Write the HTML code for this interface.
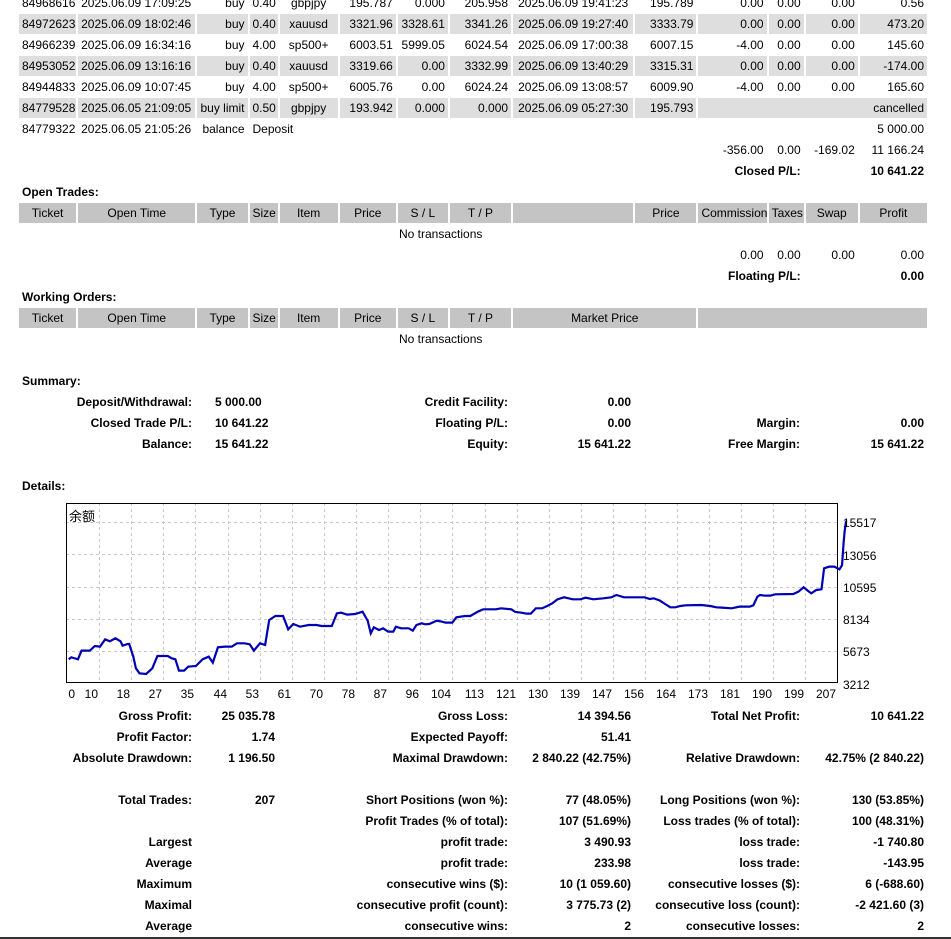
<!DOCTYPE html>
<html><head><meta charset="utf-8"><style>
body{margin:0;width:951px;height:939px;background:#fff;position:relative;overflow:hidden;font-family:"Liberation Sans","Noto Sans CJK SC",sans-serif;font-size:12px;color:#000}
table{position:absolute;left:17px;top:-8px;border-collapse:separate;border-spacing:2px 1px;table-layout:fixed;width:912px}
td{padding:0 3px;height:20px;line-height:20px;white-space:nowrap;overflow:visible;font-size:12px}
tr.g td{background:#dedede}
tr.h td{background:#c4c4c4;text-align:center}
.r{text-align:right}.c{text-align:center}.b{font-weight:bold}
.a{position:absolute;height:20px;line-height:20px;white-space:nowrap;font-weight:bold}
</style></head><body>
<table>
<colgroup><col style="width:57px"><col style="width:117px"><col style="width:50px"><col style="width:28px"><col style="width:58px"><col style="width:56px"><col style="width:50px"><col style="width:61px"><col style="width:120px"><col style="width:61px"><col style="width:68px"><col style="width:35px"><col style="width:52px"><col style="width:67px"></colgroup>
<tr><td>84968616</td><td>2025.06.09 17:09:25</td><td class="r">buy</td><td>0.40</td><td class="c">gbpjpy</td><td class="r">195.787</td><td class="r">0.000</td><td class="r">205.958</td><td class="c">2025.06.09 19:41:23</td><td class="r">195.789</td><td class="r">0.00</td><td class="r">0.00</td><td class="r">0.00</td><td class="r">0.56</td></tr>
<tr class="g"><td>84972623</td><td>2025.06.09 18:02:46</td><td class="r">buy</td><td>0.40</td><td class="c">xauusd</td><td class="r">3321.96</td><td class="r">3328.61</td><td class="r">3341.26</td><td class="c">2025.06.09 19:27:40</td><td class="r">3333.79</td><td class="r">0.00</td><td class="r">0.00</td><td class="r">0.00</td><td class="r">473.20</td></tr>
<tr><td>84966239</td><td>2025.06.09 16:34:16</td><td class="r">buy</td><td>4.00</td><td class="c">sp500+</td><td class="r">6003.51</td><td class="r">5999.05</td><td class="r">6024.54</td><td class="c">2025.06.09 17:00:38</td><td class="r">6007.15</td><td class="r">-4.00</td><td class="r">0.00</td><td class="r">0.00</td><td class="r">145.60</td></tr>
<tr class="g"><td>84953052</td><td>2025.06.09 13:16:16</td><td class="r">buy</td><td>0.40</td><td class="c">xauusd</td><td class="r">3319.66</td><td class="r">0.00</td><td class="r">3332.99</td><td class="c">2025.06.09 13:40:29</td><td class="r">3315.31</td><td class="r">0.00</td><td class="r">0.00</td><td class="r">0.00</td><td class="r">-174.00</td></tr>
<tr><td>84944833</td><td>2025.06.09 10:07:45</td><td class="r">buy</td><td>4.00</td><td class="c">sp500+</td><td class="r">6005.76</td><td class="r">0.00</td><td class="r">6024.24</td><td class="c">2025.06.09 13:08:57</td><td class="r">6009.90</td><td class="r">-4.00</td><td class="r">0.00</td><td class="r">0.00</td><td class="r">165.60</td></tr>
<tr class="g"><td>84779528</td><td>2025.06.05 21:09:05</td><td class="r">buy limit</td><td>0.50</td><td class="c">gbpjpy</td><td class="r">193.942</td><td class="r">0.000</td><td class="r">0.000</td><td class="c">2025.06.09 05:27:30</td><td class="r">195.793</td><td colspan="4" class="r">cancelled</td></tr>
<tr><td>84779322</td><td>2025.06.05 21:05:26</td><td class="r">balance</td><td colspan="2">Deposit</td><td></td><td></td><td></td><td></td><td></td><td></td><td></td><td></td><td class="r">5 000.00</td></tr>
<tr><td colspan="10"></td><td class="r">-356.00</td><td class="r">0.00</td><td class="r">-169.02</td><td class="r">11 166.24</td></tr>
<tr><td colspan="10"></td><td colspan="2" class="r b">Closed P/L:</td><td></td><td class="r b">10 641.22</td></tr>
<tr><td colspan="14" class="b">Open Trades:</td></tr>
<tr class="h"><td>Ticket</td><td>Open Time</td><td>Type</td><td>Size</td><td>Item</td><td>Price</td><td>S / L</td><td>T / P</td><td></td><td class="r">Price</td><td>Commission</td><td>Taxes</td><td>Swap</td><td>Profit</td></tr>
<tr><td colspan="14" style="padding-left:380px">No transactions</td></tr>
<tr><td colspan="10"></td><td class="r">0.00</td><td class="r">0.00</td><td class="r">0.00</td><td class="r">0.00</td></tr>
<tr><td colspan="10"></td><td colspan="2" class="r b">Floating P/L:</td><td></td><td class="r b">0.00</td></tr>
<tr><td colspan="14" class="b">Working Orders:</td></tr>
<tr class="h"><td>Ticket</td><td>Open Time</td><td>Type</td><td>Size</td><td>Item</td><td>Price</td><td>S / L</td><td>T / P</td><td colspan="2">Market Price</td><td colspan="4"></td></tr>
<tr><td colspan="14" style="padding-left:380px">No transactions</td></tr>
</table>

<div class="a" style="left:22px;top:371px">Summary:</div>
<div class="a" style="right:759px;top:392px">Deposit/Withdrawal:</div><div class="a" style="left:215px;top:392px">5 000.00</div>
<div class="a" style="right:443px;top:392px">Credit Facility:</div><div class="a" style="right:320px;top:392px">0.00</div>
<div class="a" style="right:759px;top:413px">Closed Trade P/L:</div><div class="a" style="left:215px;top:413px">10 641.22</div>
<div class="a" style="right:443px;top:413px">Floating P/L:</div><div class="a" style="right:320px;top:413px">0.00</div>
<div class="a" style="right:151px;top:413px">Margin:</div><div class="a" style="right:27px;top:413px">0.00</div>
<div class="a" style="right:759px;top:434px">Balance:</div><div class="a" style="left:215px;top:434px">15 641.22</div>
<div class="a" style="right:443px;top:434px">Equity:</div><div class="a" style="right:320px;top:434px">15 641.22</div>
<div class="a" style="right:151px;top:434px">Free Margin:</div><div class="a" style="right:27px;top:434px">15 641.22</div>
<div class="a" style="left:22px;top:476px">Details:</div>

<svg style="position:absolute;left:0;top:0" width="951" height="939">
<g stroke="#c8c8c8" stroke-width="1" stroke-dasharray="3,3">
<line x1="66" x2="838" y1="522.5" y2="522.5"/><line x1="66" x2="838" y1="554.5" y2="554.5"/><line x1="66" x2="838" y1="587.5" y2="587.5"/><line x1="66" x2="838" y1="619.5" y2="619.5"/><line x1="66" x2="838" y1="651.5" y2="651.5"/>
<line x1="99.5" x2="99.5" y1="503" y2="683"/><line x1="131.5" x2="131.5" y1="503" y2="683"/><line x1="163.5" x2="163.5" y1="503" y2="683"/><line x1="195.5" x2="195.5" y1="503" y2="683"/><line x1="228.5" x2="228.5" y1="503" y2="683"/><line x1="260.5" x2="260.5" y1="503" y2="683"/><line x1="292.5" x2="292.5" y1="503" y2="683"/><line x1="324.5" x2="324.5" y1="503" y2="683"/><line x1="356.5" x2="356.5" y1="503" y2="683"/><line x1="388.5" x2="388.5" y1="503" y2="683"/><line x1="420.5" x2="420.5" y1="503" y2="683"/><line x1="452.5" x2="452.5" y1="503" y2="683"/><line x1="485.5" x2="485.5" y1="503" y2="683"/><line x1="517.5" x2="517.5" y1="503" y2="683"/><line x1="549.5" x2="549.5" y1="503" y2="683"/><line x1="581.5" x2="581.5" y1="503" y2="683"/><line x1="613.5" x2="613.5" y1="503" y2="683"/><line x1="645.5" x2="645.5" y1="503" y2="683"/><line x1="677.5" x2="677.5" y1="503" y2="683"/><line x1="709.5" x2="709.5" y1="503" y2="683"/><line x1="741.5" x2="741.5" y1="503" y2="683"/><line x1="773.5" x2="773.5" y1="503" y2="683"/><line x1="805.5" x2="805.5" y1="503" y2="683"/>
</g>
<rect x="66.5" y="503.5" width="771" height="179" fill="none" stroke="#000"/>
<path transform="matrix(0.5128,0,0,0.3333,60,500)" vector-effect="non-scaling-stroke" fill="none" stroke="#0000b4" stroke-width="2.2" d="M17,478 L22,472 L35,478 L42,452 L58,452 L68,438 L78,440 L88,418 L97,424 L108,415 L118,424 L122,437 L132,432 L135,432 L143,470 L148,505 L155,520 L168,522 L180,505 L190,468 L210,468 L218,475 L225,478 L232,512 L242,512 L250,500 L265,498 L278,478 L290,470 L298,488 L308,442 L322,440 L335,440 L345,430 L360,430 L370,433 L378,452 L390,430 L400,435 L408,360 L420,348 L435,348 L445,388 L455,372 L468,380 L485,375 L500,375 L510,378 L530,378 L540,340 L548,338 L560,344 L575,342 L580,340 L590,335 L600,362 L606,400 L612,382 L622,390 L630,385 L640,395 L650,395 L655,380 L665,385 L680,385 L688,392 L695,375 L705,370 L712,373 L720,372 L735,362 L745,365 L752,368 L765,368 L773,352 L790,348 L800,348 L815,335 L825,328 L850,328 L860,325 L880,328 L888,336 L900,338 L910,341 L918,341 L928,325 L940,325 L950,318 L960,310 L970,298 L983,292 L1000,298 L1015,298 L1025,293 L1040,298 L1060,295 L1075,292 L1085,285 L1100,292 L1140,292 L1150,297 L1158,295 L1170,302 L1180,312 L1190,322 L1200,322 L1210,318 L1220,316 L1250,315 L1268,318 L1280,322 L1290,323 L1310,325 L1325,320 L1345,320 L1352,316 L1360,290 L1365,285 L1375,287 L1385,287 L1395,283 L1430,282 L1440,275 L1450,262 L1458,272 L1465,280 L1475,270 L1485,268 L1490,205 L1500,200 L1510,200 L1520,208 L1525,196 L1528,130 L1530,95 L1533,62"/>
<g font-family="Liberation Sans, sans-serif" font-size="12" fill="#000">
<text x="69" y="521" font-family="Noto Sans CJK SC, sans-serif" font-size="13">余额</text>
<text x="843" y="527">15517</text><text x="843" y="560">13056</text><text x="843" y="592">10595</text><text x="843" y="624">8134</text><text x="843" y="656">5673</text><text x="843" y="689">3212</text>
<g text-anchor="end"><text x="75" y="698">0</text><text x="98" y="698">10</text><text x="130" y="698">18</text><text x="162" y="698">27</text><text x="194" y="698">35</text><text x="227" y="698">44</text><text x="259" y="698">53</text><text x="291" y="698">61</text><text x="323" y="698">70</text><text x="355" y="698">78</text><text x="387" y="698">87</text><text x="419" y="698">96</text><text x="451" y="698">104</text><text x="484" y="698">113</text><text x="516" y="698">121</text><text x="548" y="698">130</text><text x="580" y="698">139</text><text x="612" y="698">147</text><text x="644" y="698">156</text><text x="676" y="698">164</text><text x="708" y="698">173</text><text x="740" y="698">181</text><text x="772" y="698">190</text><text x="804" y="698">199</text><text x="836" y="698">207</text></g>
</g>
<rect x="0" y="937" width="951" height="2" fill="#333"/>
</svg>

<div class="a" style="right:759px;top:706px">Gross Profit:</div><div class="a" style="right:676px;top:706px">25 035.78</div>
<div class="a" style="right:443px;top:706px">Gross Loss:</div><div class="a" style="right:320px;top:706px">14 394.56</div>
<div class="a" style="right:151px;top:706px">Total Net Profit:</div><div class="a" style="right:27px;top:706px">10 641.22</div>
<div class="a" style="right:759px;top:727px">Profit Factor:</div><div class="a" style="right:676px;top:727px">1.74</div>
<div class="a" style="right:443px;top:727px">Expected Payoff:</div><div class="a" style="right:320px;top:727px">51.41</div>
<div class="a" style="right:759px;top:748px">Absolute Drawdown:</div><div class="a" style="right:676px;top:748px">1 196.50</div>
<div class="a" style="right:443px;top:748px">Maximal Drawdown:</div><div class="a" style="right:320px;top:748px">2 840.22 (42.75%)</div>
<div class="a" style="right:151px;top:748px">Relative Drawdown:</div><div class="a" style="right:27px;top:748px">42.75% (2 840.22)</div>

<div class="a" style="right:759px;top:790px">Total Trades:</div><div class="a" style="right:676px;top:790px">207</div>
<div class="a" style="right:443px;top:790px">Short Positions (won %):</div><div class="a" style="right:320px;top:790px">77 (48.05%)</div>
<div class="a" style="right:151px;top:790px">Long Positions (won %):</div><div class="a" style="right:27px;top:790px">130 (53.85%)</div>
<div class="a" style="right:443px;top:811px">Profit Trades (% of total):</div><div class="a" style="right:320px;top:811px">107 (51.69%)</div>
<div class="a" style="right:151px;top:811px">Loss trades (% of total):</div><div class="a" style="right:27px;top:811px">100 (48.31%)</div>
<div class="a" style="right:759px;top:832px">Largest</div>
<div class="a" style="right:443px;top:832px">profit trade:</div><div class="a" style="right:320px;top:832px">3 490.93</div>
<div class="a" style="right:151px;top:832px">loss trade:</div><div class="a" style="right:27px;top:832px">-1 740.80</div>
<div class="a" style="right:759px;top:853px">Average</div>
<div class="a" style="right:443px;top:853px">profit trade:</div><div class="a" style="right:320px;top:853px">233.98</div>
<div class="a" style="right:151px;top:853px">loss trade:</div><div class="a" style="right:27px;top:853px">-143.95</div>
<div class="a" style="right:759px;top:874px">Maximum</div>
<div class="a" style="right:443px;top:874px">consecutive wins ($):</div><div class="a" style="right:320px;top:874px">10 (1 059.60)</div>
<div class="a" style="right:151px;top:874px">consecutive losses ($):</div><div class="a" style="right:27px;top:874px">6 (-688.60)</div>
<div class="a" style="right:759px;top:895px">Maximal</div>
<div class="a" style="right:443px;top:895px">consecutive profit (count):</div><div class="a" style="right:320px;top:895px">3 775.73 (2)</div>
<div class="a" style="right:151px;top:895px">consecutive loss (count):</div><div class="a" style="right:27px;top:895px">-2 421.60 (3)</div>
<div class="a" style="right:759px;top:916px">Average</div>
<div class="a" style="right:443px;top:916px">consecutive wins:</div><div class="a" style="right:320px;top:916px">2</div>
<div class="a" style="right:151px;top:916px">consecutive losses:</div><div class="a" style="right:27px;top:916px">2</div>
</body></html>
